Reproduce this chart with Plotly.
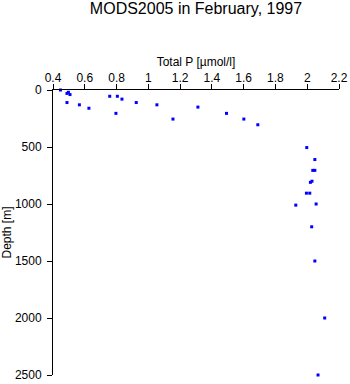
import plotly.graph_objects as go

total_p = [0.447, 0.488, 0.497, 0.507, 0.488, 0.566, 0.626, 0.757, 0.805, 0.834,
           0.796, 0.924, 1.054, 1.155, 1.312, 1.492, 1.601, 1.689, 1.997, 2.048,
           2.035, 2.048, 2.030, 2.020, 1.995, 2.016, 1.928, 2.056, 2.028, 2.048,
           2.110, 2.068]
depth = [0, 30, 20, 40, 110, 130, 160, 55, 55, 80,
         205, 110, 130, 255, 150, 205, 255, 305, 505, 610,
         705, 705, 800, 810, 905, 905, 1010, 1000, 1200, 1500,
         2000, 2500]

title_text = "MODS2005 in February, 1997"
x_title = "Total P [\u00b5mol/l]"
y_title = "Depth [m]"

font_family = "Liberation Sans, Arial, sans-serif"

fig = go.Figure()
fig.add_trace(go.Scatter(
    x=total_p, y=depth, mode="markers",
    marker=dict(symbol="square", size=3, color="#0000ff", line=dict(width=0)),
    cliponaxis=False, showlegend=False,
))

fig.update_layout(
    width=350, height=384,
    margin=dict(l=53, r=11, t=90, b=9),
    paper_bgcolor="white", plot_bgcolor="white",
    font=dict(family=font_family, size=12, color="black"),
    title=dict(text=title_text, x=(53 + 339) / 2 / 350, xanchor="center",
               y=1 - 8 / 384, yanchor="middle", yref="container",
               font=dict(size=16, family=font_family, color="black")),
    xaxis=dict(side="top", range=[0.4, 2.2], dtick=0.2, tick0=0.4,
               automargin=False,
               showgrid=False, zeroline=False, showline=True, linecolor="black",
               linewidth=1, ticks="outside", ticklen=5, tickcolor="black",
               ticklabelstandoff=-3,
               title=dict(text=x_title, standoff=2, font=dict(size=12)),
               tickfont=dict(size=12)),
    yaxis=dict(range=[2500, 0], dtick=500, tick0=0,
               automargin=False,
               showgrid=False, zeroline=False, showline=True, linecolor="black",
               linewidth=1, ticks="outside", ticklen=5, tickcolor="black",
               ticklabelstandoff=3,
               title=dict(text=y_title, standoff=6, font=dict(size=12)),
               tickfont=dict(size=12)),
)

fig.write_html("out.html")
